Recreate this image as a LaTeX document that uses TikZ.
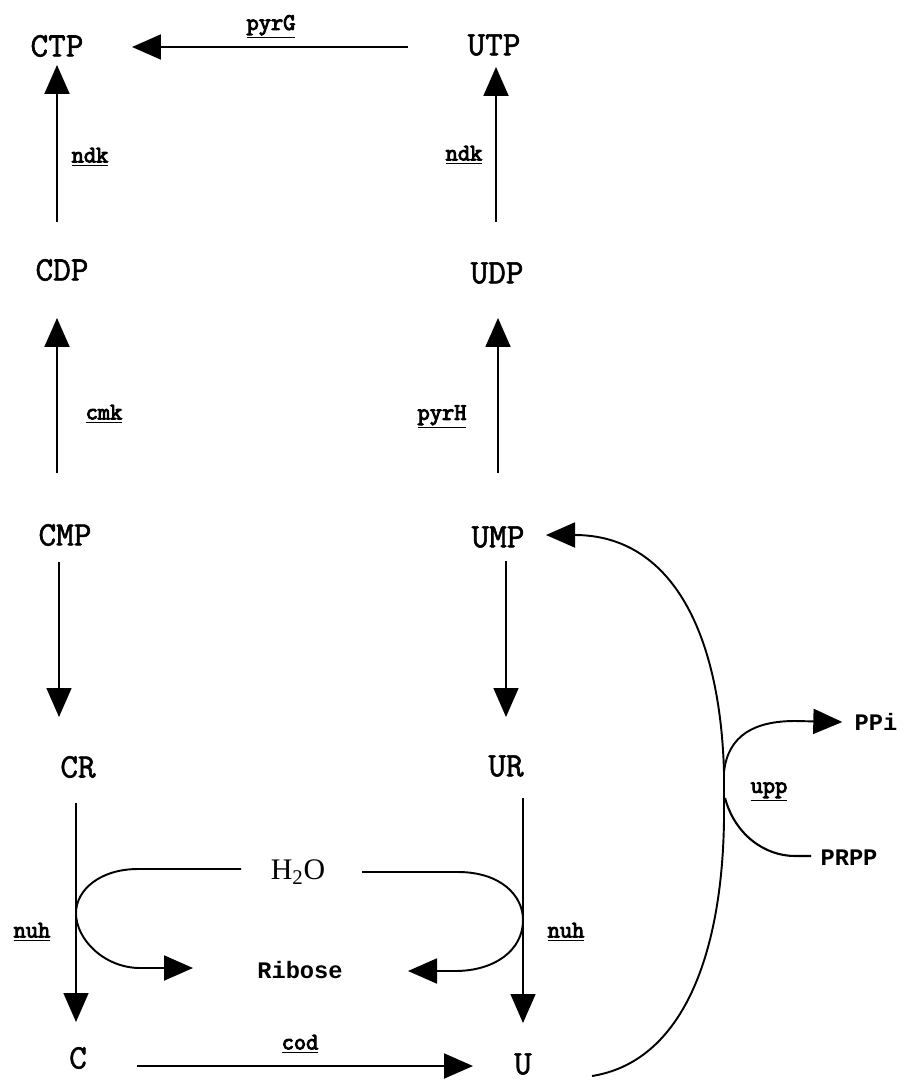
\documentclass[tikz,border=0pt]{standalone}
\usepackage{fontspec}
\setmainfont{Liberation Serif}
\newfontfamily\monof{Liberation Mono}
\newfontfamily\metf[FakeBold=1.6]{Latin Modern Mono}
\newfontfamily\boldtt[FakeBold=4]{Latin Modern Mono}
\usetikzlibrary{arrows.meta,calc}
\begin{document}
\begin{tikzpicture}[x=0.02cm,y=-0.02cm,
  met/.style={font=\metf\fontsize{19.5}{21}\selectfont, inner sep=0pt},
  enz/.style={font=\boldtt\fontsize{13.5}{15}\selectfont, inner sep=0pt},
  chem/.style={font=\monof\bfseries\fontsize{13.5}{15}\selectfont, inner sep=0pt},
  water/.style={font=\fontsize{17}{19}\selectfont, inner sep=0pt},
  arr/.style={-{Triangle[length=0.58cm,width=0.5cm]}, line width=1.1pt},
  thinarr/.style={-{Triangle[length=0.58cm,width=0.5cm]}, line width=0.85pt},
  ln/.style={line width=1.2pt}]
\useasboundingbox (0,0) rectangle (906,1087);
% metabolites
\node[met] (CTP) at (57,46) {CTP};
\node[met] (UTP) at (494,45) {UTP};
\node[met] (CDP) at (62,270) {CDP};
\node[met] (UDP) at (497,273) {UDP};
\node[met] (CMP) at (65,535) {CMP};
\node[met] (UMP) at (498,537) {UMP};
\node[met] (CR) at (78,767) {CR};
\node[met] (UR) at (506,766) {UR};
\node[met] (C) at (78,1058) {C};
\node[met] (U) at (523,1064) {U};
\node[water] (H2O) at (298,872) {H\textsubscript{2}O};
\node[chem] (Ribose) at (300,970) {Ribose};
\node[chem] (PPi) at (876,722) {PPi};
\node[chem] (PRPP) at (849,858) {PRPP};
% enzymes
\node[enz] (pyrG) at (271,27) {\underline{pyrG}};
\node[enz] (ndkC) at (90,157) {\underline{ndk}};
\node[enz] (ndkU) at (464,155) {\underline{ndk}};
\node[enz] (cmk) at (104,414) {\underline{cmk}};
\node[enz] (pyrH) at (442,417) {\underline{pyrH}};
\node[enz] (nuhC) at (32,932) {\underline{nuh}};
\node[enz] (nuhU) at (566,932) {\underline{nuh}};
\node[enz] (cod) at (300,1044) {\underline{cod}};
\node[enz] (upp) at (769,792) {\underline{upp}};
% top row and columns
\draw[arr] ($(UTP)+(-86,2)$) -- ($(CTP)+(75,1)$);
\draw[arr] ($(CDP)+(-5,-48)$) -- ($(CTP)+(0,19)$);
\draw[arr] ($(UDP)+(-1,-51)$) -- ($(UTP)+(2,22)$);
\draw[arr] ($(CMP)+(-8,-62)$) -- ($(CDP)+(-5,48)$);
\draw[arr] ($(UMP)+(0,-64)$) -- ($(UDP)+(1,45)$);
\draw[thinarr] ($(CMP)+(-6,27)$) -- ($(CR)+(-19,-50)$);
\draw[thinarr] ($(UMP)+(8,24)$) -- ($(UR)+(0,-49)$);
\draw[thinarr] ($(CR)+(-2,36)$) -- ($(C)+(-2,-36)$);
\draw[thinarr] ($(UR)+(17,32)$) -- ($(U)+(0,-41)$);
\draw[arr] ($(C)+(59,8)$) -- ($(U)+(-50,2)$);
% water / ribose loops
\draw[arr] ($(H2O)+(-57,-3)$) -- (138,869) .. controls (100,869) and (76,890) .. (76,913)
  .. controls (76,940) and (105,968) .. (140,968) -- ($(Ribose)+(-107,-2)$);
\draw[arr] ($(H2O)+(64,0)$) -- (458,872) .. controls (500,872) and (523,895) .. (523,920)
  .. controls (523,950) and (495,971) .. (455,971) -- ($(Ribose)+(108,1)$);
% U -> UMP big curve
\coordinate (j1) at (724,772);
\coordinate (j2) at (725,798);
\draw[arr] ($(U)+(69,12)$) .. controls (680,1062) and (722,960) .. (724,820)
  -- (j1) .. controls (720,630) and (670,535) .. ($(UMP)+(48,-2)$);
\draw[arr] (j1) .. controls (728,735) and (755,721) .. (795,721) -- ($(PPi.west)+(-12,0)$);
\draw[ln] (PRPP.west) ++(-9,-2) -- (795,856) .. controls (765,856) and (735,835) .. (j2);
\end{tikzpicture}
\end{document}
